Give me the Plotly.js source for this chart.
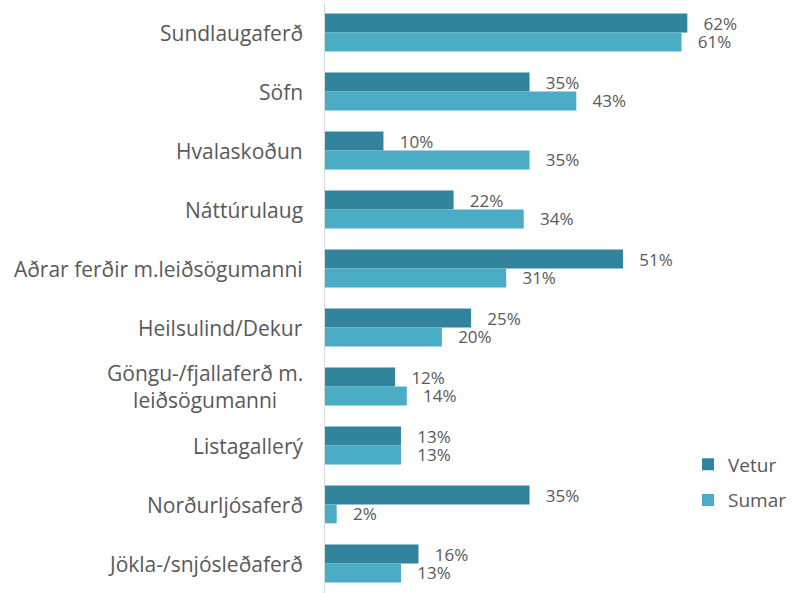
<!DOCTYPE html>
<html>
<head>
<meta charset="utf-8">
<script src="https://cdn.plot.ly/plotly-3.0.1.min.js"></script>
<style>html,body{margin:0;padding:0;background:#fff;}#chart{width:792px;height:593px;}</style>
</head>
<body>
<div id="chart"></div>
<script>
const categories = ["Sundlaugaferð", "Söfn", "Hvalaskoðun", "Náttúrulaug", "Aðrar ferðir m.leiðsögumanni", "Heilsulind/Dekur", "Göngu-/fjallaferð m.<br>leiðsögumanni", "Listagallerý", "Norðurljósaferð", "Jökla-/snjósleðaferð"];
const vetur = [62, 35, 10, 22, 51, 25, 12, 13, 35, 16];
const sumar = [61, 43, 35, 34, 31, 20, 14, 13, 2, 13];
const seriesNames = ["Vetur", "Sumar"];

const gray = "#595959";
const fam = "'Open Sans', Lato, sans-serif";
const pad = "\u00a0\u00a0\u00a0";

const traces = [
  {type: "bar", orientation: "h", name: seriesNames[0], y: categories, x: vetur,
   marker: {color: "#31849B"}, legendgroup: "a",
   texttemplate: pad + "%{x}%", textposition: "outside", cliponaxis: false, constraintext: "none",
   textfont: {family: fam, size: 17, color: gray}, hoverinfo: "x+y"},
  {type: "bar", orientation: "h", name: seriesNames[1], y: categories, x: sumar,
   marker: {color: "#4BACC6"}, legendgroup: "b",
   texttemplate: pad + "%{x}%", textposition: "outside", cliponaxis: false, constraintext: "none",
   textfont: {family: fam, size: 17, color: gray}, hoverinfo: "x+y"}
];

const annotations = categories.map(c => ({
  xref: "paper", yref: "y", x: 0, y: c, text: c, showarrow: false,
  xanchor: "right", yanchor: "middle", align: "center", xshift: -20,
  font: {family: fam, size: 21, color: gray}
}));

const layout = {
  width: 792, height: 593,
  margin: {l: 325, r: 0, t: 3, b: 0},
  paper_bgcolor: "#fff", plot_bgcolor: "#fff",
  barmode: "group", bargap: 0.36, bargroupgap: 0,
  xaxis: {visible: false, range: [0, 75.8], fixedrange: true},
  yaxis: {autorange: "reversed", showticklabels: false, ticks: "", showgrid: false,
          showline: true, linecolor: "#d9d9d9", linewidth: 1, zeroline: false},
  showlegend: true,
  legend: {x: 0.82, y: 0.25, xanchor: "left", yanchor: "top", traceorder: "grouped",
           tracegroupgap: 8, bgcolor: "rgba(0,0,0,0)",
           font: {family: fam, size: 19, color: gray}},
  annotations: annotations
};

Plotly.newPlot("chart", traces, layout, {displayModeBar: false, staticPlot: true});
</script>
</body>
</html>
